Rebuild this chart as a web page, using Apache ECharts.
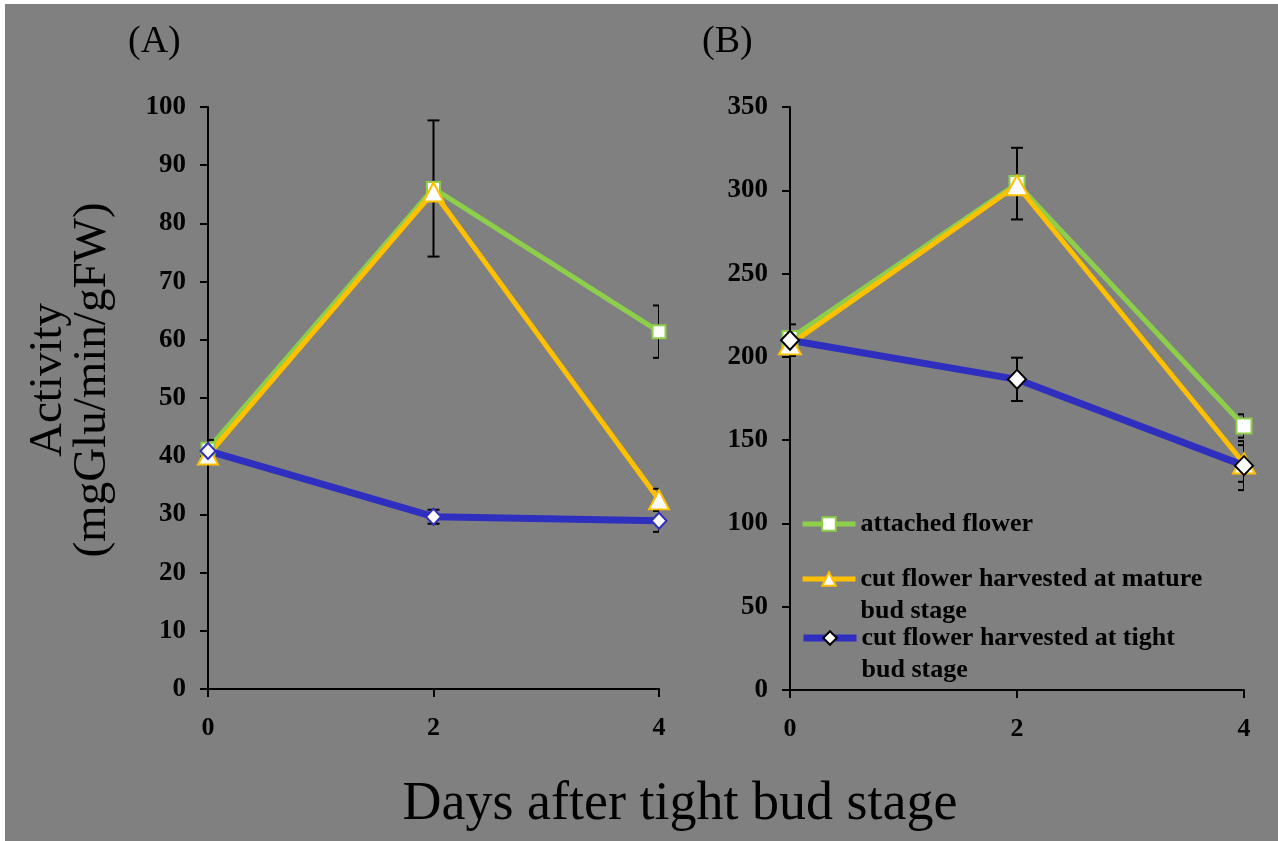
<!DOCTYPE html>
<html>
<head>
<meta charset="utf-8">
<script src="https://cdn.jsdelivr.net/npm/echarts@6/dist/echarts.min.js"></script>
<style>
html,body{margin:0;padding:0;background:#fff;}
#chart{width:1278px;height:841px;}
</style>
</head>
<body>
<div id="chart"></div>
<script>
// ---- data ----
const days = [0, 2, 4];
const xTicks = [0, 2, 4];
const seriesNames = ['attached flower', 'cut flower harvested at mature\nbud stage', 'cut flower harvested at tight\nbud stage'];
// Panel (A)
const aAttached = [41.2, 86.0, 61.4];
const aMature = [40.2, 85.4, 32.5];
const aTight = [40.9, 29.6, 28.9];
const aAttachedErr = [1.6, 11.7, 4.5];
const aMatureErr = [0, 0, 1.9];
const aTightErr = [0, 1.2, 1.9];
// Panel (B)
const bAttached = [211, 304, 158.5];
const bMature = [207.5, 303, 136];
const bTight = [210, 186.5, 134.7];
const bAttachedErr = [0, 21.5, 7];
const bMatureErr = [0, 0, 11];
const bTightErr = [9.5, 13, 14.7];

const FONT = "'Liberation Serif', 'Times New Roman', serif";
const colors = ['#8DCF4A', '#FFC000', '#2F2FBF'];
const symbols = ['rect', 'triangle', 'diamond'];
const lineWidths = [5, 5, 7];

function pairs(vals) { return days.map((d, i) => [d, vals[i]]); }

function lineSeries(k, idx, vals, borderColor) {
  return {
    type: 'line', name: seriesNames[k], xAxisIndex: idx, yAxisIndex: idx,
    data: pairs(vals), showSymbol: false, symbol: symbols[k],
    lineStyle: { color: colors[k], width: lineWidths[k] },
    itemStyle: { color: '#fff', borderColor: borderColor, borderWidth: 2 },
    z: 2, silent: true, animation: false
  };
}
function markerSeries(k, idx, vals, size, borderColor) {
  return {
    type: 'scatter', name: seriesNames[k], xAxisIndex: idx, yAxisIndex: idx,
    data: pairs(vals), symbol: symbols[k], symbolSize: size,
    itemStyle: { color: '#fff', borderColor: borderColor, borderWidth: 2, opacity: 1 },
    z: 4, silent: true, animation: false
  };
}
function errorSeries(idx, vals, errs) {
  return {
    type: 'custom', xAxisIndex: idx, yAxisIndex: idx, clip: true, z: 3, silent: true, animation: false,
    data: days.map((d, i) => [d, vals[i] - errs[i], vals[i] + errs[i]]),
    encode: { x: 0, y: [1, 2] },
    renderItem: function (params, api) {
      const lo = api.coord([api.value(0), api.value(1)]);
      const hi = api.coord([api.value(0), api.value(2)]);
      const w = 6;
      const st = { stroke: '#000', lineWidth: 2 };
      return {
        type: 'group', children: [
          { type: 'line', shape: { x1: lo[0], y1: lo[1], x2: hi[0], y2: hi[1] }, style: st },
          { type: 'line', shape: { x1: lo[0] - w, y1: lo[1], x2: lo[0] + w, y2: lo[1] }, style: st },
          { type: 'line', shape: { x1: hi[0] - w, y1: hi[1], x2: hi[0] + w, y2: hi[1] }, style: st }
        ]
      };
    }
  };
}

const axisLine = { show: true, lineStyle: { color: '#000', width: 2 } };
const axisTick = { show: true, inside: false, length: 8, lineStyle: { color: '#000', width: 2 } };
function xAxis(idx) {
  return {
    type: 'value', gridIndex: idx, min: 0, max: 4, interval: 2,
    axisLine: axisLine, axisTick: axisTick, splitLine: { show: false },
    axisLabel: { color: '#000', fontFamily: FONT, fontWeight: 'bold', fontSize: 26, margin: 26,
      formatter: v => (xTicks.indexOf(v) >= 0 ? String(v) : '') }
  };
}
function yAxis(idx, max, interval) {
  return {
    type: 'value', gridIndex: idx, min: 0, max: max, interval: interval,
    axisLine: axisLine, axisTick: axisTick, splitLine: { show: false },
    axisLabel: { color: '#000', fontFamily: FONT, fontWeight: 'bold', fontSize: 27, margin: 22 }
  };
}

const legendText = { color: '#000', fontFamily: FONT, fontWeight: 'bold', fontSize: 26, lineHeight: 32 };
function legend(k, top, twoLine, borderColor) {
  const item = { name: seriesNames[k] };
  if (borderColor) item.itemStyle = { borderColor: borderColor };
  return {
    data: [item], left: 800, top: top, padding: 0, itemWidth: 53, itemHeight: 17, itemGap: 0,
    selectedMode: false,
    lineStyle: { width: lineWidths[k] },
    formatter: twoLine ? (n => '\n' + n) : (n => n),
    textStyle: legendText
  };
}

const chart = echarts.init(document.getElementById('chart'), null, { renderer: 'canvas' });
chart.setOption({
  animation: false,
  backgroundColor: '#808080',
  title: [
    { text: '(A)', left: 123, top: 18, textStyle: { fontFamily: FONT, fontWeight: 'normal', fontSize: 38, color: '#000' } },
    { text: '(B)', left: 697, top: 18, textStyle: { fontFamily: FONT, fontWeight: 'normal', fontSize: 38, color: '#000' } }
  ],
  grid: [
    { left: 208, right: 619, top: 107, bottom: 152 },
    { left: 790, right: 34, top: 107, bottom: 151 }
  ],
  xAxis: [xAxis(0), xAxis(1)],
  yAxis: [yAxis(0, 100, 10), yAxis(1, 350, 50)],
  legend: [
    legend(0, 508, false),
    legend(1, 531, true),
    legend(2, 590, true, '#000')
  ],
  series: [
    lineSeries(0, 0, aAttached, colors[0]),
    lineSeries(1, 0, aMature, colors[1]),
    lineSeries(2, 0, aTight, colors[2]),
    lineSeries(0, 1, bAttached, colors[0]),
    lineSeries(1, 1, bMature, colors[1]),
    lineSeries(2, 1, bTight, '#000'),
    errorSeries(0, aAttached, aAttachedErr),
    errorSeries(0, aMature, aMatureErr),
    errorSeries(0, aTight, aTightErr),
    errorSeries(1, bAttached, bAttachedErr),
    errorSeries(1, bMature, bMatureErr),
    errorSeries(1, bTight, bTightErr),
    markerSeries(0, 0, aAttached, 13, colors[0]),
    markerSeries(1, 0, aMature, [20, 19], colors[1]),
    markerSeries(2, 0, aTight, [15, 16], colors[2]),
    markerSeries(0, 1, bAttached, 15, colors[0]),
    markerSeries(1, 1, bMature, [22, 20], colors[1]),
    markerSeries(2, 1, bTight, [18, 19], '#000')
  ],
  graphic: [
    { type: 'rect', shape: { x: 0, y: 0, width: 5, height: 841 }, style: { fill: '#fff' }, silent: true },
    { type: 'rect', shape: { x: 0, y: 0, width: 1278, height: 4 }, style: { fill: '#fff' }, silent: true },
    { type: 'text', x: 71, y: 380, rotation: Math.PI / 2, silent: true,
      style: { text: 'Activity\n(mgGlu/min/gFW)', fontFamily: FONT, fontSize: 47, lineHeight: 44,
        fill: '#000', textAlign: 'center', textVerticalAlign: 'middle' } },
    { type: 'text', x: 680, y: 805, silent: true,
      style: { text: 'Days after tight bud stage', fontFamily: FONT, fontSize: 54,
        fill: '#000', textAlign: 'center', textVerticalAlign: 'middle' } }
  ]
});
</script>
</body>
</html>
